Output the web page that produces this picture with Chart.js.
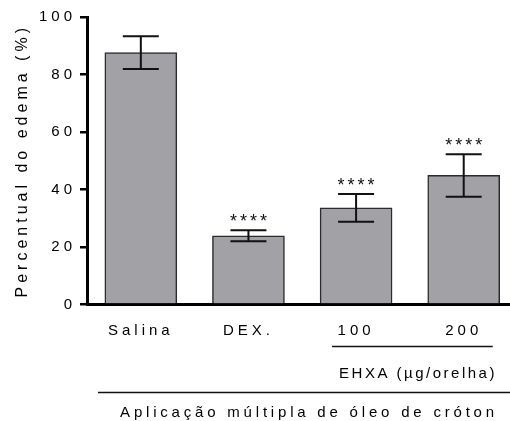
<!DOCTYPE html>
<html>
<head>
<meta charset="utf-8">
<script src="https://cdn.jsdelivr.net/npm/chart.js@4.4.1/dist/chart.umd.min.js"></script>
<style>
  html, body { margin: 0; padding: 0; background: #fff; overflow: hidden; }
  canvas { display: block; }
</style>
</head>
<body>
<canvas id="edemaChart" width="510" height="421"></canvas>
<script>
const categories = ["Salina", "DEX.", "100", "200"];
const means = [87.6, 23.9, 33.6, 44.9];
const errors = [5.7, 1.9, 4.8, 7.4];
const significance = ["", "****", "****", "****"];
const yTicks = [0, 20, 40, 60, 80, 100];

const FONT = "'Liberation Sans', Arial, sans-serif";
Chart.defaults.font.family = FONT;
Chart.defaults.color = "#000";

const spacingPlugin = {
    id: "spacing",
    beforeLayout(chart) { chart.ctx.letterSpacing = "4px"; },
    beforeDraw(chart) { chart.ctx.letterSpacing = "4px"; }
};

const errorBarPlugin = {
    id: "errorBars",
    afterDatasetsDraw(chart) {
        const ctx = chart.ctx, x = chart.scales.x, y = chart.scales.y;
        ctx.save();
        ctx.strokeStyle = "#111";
        ctx.lineWidth = 2;
        means.forEach((m, i) => {
            const px = x.getPixelForValue(i);
            const top = y.getPixelForValue(m + errors[i]);
            const bot = y.getPixelForValue(m - errors[i]);
            ctx.beginPath();
            ctx.moveTo(px, top); ctx.lineTo(px, bot);
            ctx.moveTo(px - 18, top); ctx.lineTo(px + 18, top);
            ctx.moveTo(px - 18, bot); ctx.lineTo(px + 18, bot);
            ctx.stroke();
            if (significance[i]) {
                ctx.letterSpacing = "3px";
                ctx.font = "18px " + FONT;
                ctx.fillStyle = "#111";
                ctx.textAlign = "center";
                ctx.textBaseline = "middle";
                ctx.fillText(significance[i], px + 1.5, top - 8);
            }
        });
        ctx.restore();
    },
    afterDraw(chart) {
        const ctx = chart.ctx, x = chart.scales.x;
        ctx.save();
        ctx.strokeStyle = "#111";
        ctx.lineWidth = 1.5;
        // bracket under the EHXA doses
        ctx.beginPath();
        ctx.moveTo(x.getPixelForValue(2) - 24, 346.5);
        ctx.lineTo(x.getPixelForValue(3) + 29, 346.5);
        ctx.stroke();
        // long line under all groups
        ctx.beginPath();
        ctx.moveTo(98, 392.5);
        ctx.lineTo(510, 392.5);
        ctx.stroke();
        ctx.fillStyle = "#000";
        ctx.textAlign = "center";
        ctx.textBaseline = "alphabetic";
        ctx.font = "15px " + FONT;
        ctx.letterSpacing = "2.5px";
        ctx.fillText("EHXA (\u00b5g/orelha)", 418, 377.5);
        ctx.letterSpacing = "3.8px";
        ctx.fillText("Aplica\u00e7\u00e3o m\u00faltipla de \u00f3leo de cr\u00f3ton", 309, 417);
        ctx.restore();
    }
};

new Chart(document.getElementById("edemaChart"), {
    type: "bar",
    data: {
        datasets: [{
            data: categories.map((c, i) => ({ x: i, y: means[i] })),
            backgroundColor: "#a2a1a6",
            borderColor: "#2b2b2b",
            borderWidth: 1.5,
            barThickness: 72
        }]
    },
    options: {
        responsive: false,
        animation: false,
        layout: { padding: { top: 17, left: 0, right: 0, bottom: 0 } },
        plugins: { legend: { display: false }, tooltip: { enabled: false } },
        scales: {
            x: {
                type: "linear",
                offset: false,
                min: -0.5,
                max: 3.43,
                afterBuildTicks: s => { s.ticks = categories.map((c, i) => ({ value: i })); },
                afterFit: s => { s.height = 116.5; },
                grid: { display: false, drawTicks: false, offset: false },
                border: { display: true, width: 3, color: "#000" },
                ticks: {
                    autoSkip: false,
                    maxRotation: 0,
                    padding: 17,
                    font: { size: 15 },
                    callback: v => categories[v]
                }
            },
            y: {
                min: 0,
                max: 100,
                afterBuildTicks: s => { s.ticks = yTicks.map(v => ({ value: v })); },
                afterFit: s => { s.width = 87; },
                grid: { drawOnChartArea: false, drawTicks: true, tickLength: 7, color: "#000", lineWidth: 2.5 },
                border: { display: true, width: 3, color: "#000" },
                ticks: { padding: 4, font: { size: 15 } },
                title: {
                    display: true,
                    text: "Percentual do edema (%)",
                    font: { size: 16 },
                    padding: { top: 13, bottom: 0 }
                }
            }
        }
    },
    plugins: [spacingPlugin, errorBarPlugin]
});
</script>
</body>
</html>
